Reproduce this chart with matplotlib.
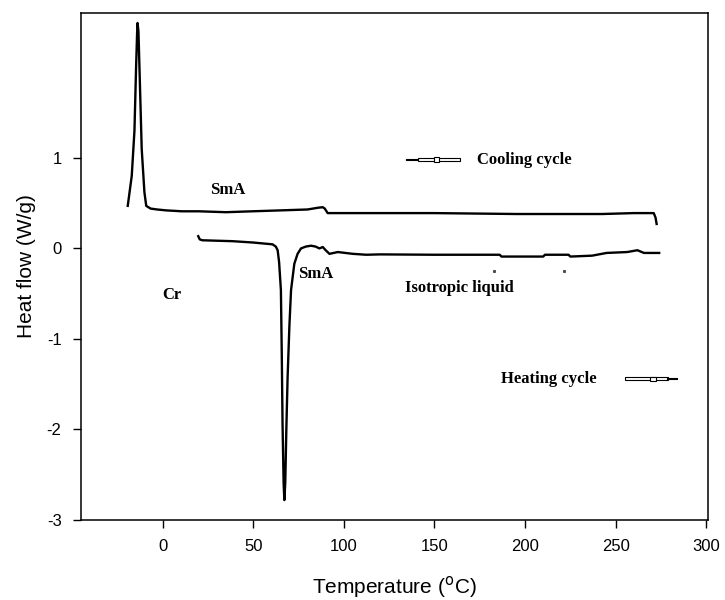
import matplotlib.pyplot as plt
from matplotlib.patches import Rectangle

plt.rcParams["axes.unicode_minus"] = False

# cooling run (x in C, heat flow in W/g)
cool_t = [-19.2, -17.0, -15.5, -14.6, -14.0, -13.8, -13.3, -12.6, -11.5, -10.0, -9.0,
          -6.6, -3.0, 2.0, 10.7, 20.0, 35.0, 49.6, 65.0, 80.0, 86.0, 88.4, 89.5,
          91.1, 105.0, 123.5, 150.0, 195.5, 220.0, 242.5, 260.0, 271.0, 272.0, 272.6]
cool_hf = [0.47, 0.80, 1.30, 2.00, 2.40, 2.49, 2.40, 1.90, 1.10, 0.62, 0.47,
           0.44, 0.43, 0.42, 0.41, 0.41, 0.40, 0.41, 0.42, 0.43, 0.45, 0.455, 0.44,
           0.39, 0.39, 0.39, 0.39, 0.38, 0.38, 0.38, 0.39, 0.39, 0.34, 0.27]

# heating run
heat_t = [19.7, 20.5, 21.9, 30.0, 38.5, 50.0, 58.0, 60.7, 62.5, 63.5, 64.3, 65.3,
          65.8, 66.2, 66.8, 67.2, 67.7, 68.3, 69.0, 70.0, 70.9, 72.7, 74.5, 76.4,
          79.0, 81.9, 84.5, 86.5, 88.4, 90.0, 92.1, 96.7, 105.0, 112.4, 120.0,
          150.0, 186.0, 187.0, 210.0, 211.0, 224.0, 225.0, 237.0, 245.0, 256.4,
          262.0, 265.6, 274.0]
heat_hf = [0.135, 0.10, 0.09, 0.085, 0.08, 0.065, 0.05, 0.045, 0.02, -0.02, -0.15, -0.46,
           -1.20, -1.93, -2.59, -2.78, -2.59, -2.00, -1.42, -0.85, -0.46, -0.17, -0.06, 0.0,
           0.02, 0.03, 0.02, 0.0, 0.015, -0.02, -0.06, -0.04, -0.06, -0.07, -0.066,
           -0.07, -0.07, -0.09, -0.09, -0.07, -0.07, -0.09, -0.08, -0.05, -0.04,
           -0.02, -0.05, -0.05]

# stray specks below the baseline
speck_t = [183.0, 221.3]
speck_hf = [-0.25, -0.25]

phase_labels = ["SmA", "SmA", "Cr", "Isotropic liquid"]
phase_t = [35.9, 84.5, 4.9, 163.7]
phase_hf = [0.64, -0.28, -0.51, -0.44]

xticks = [0, 50, 100, 150, 200, 250, 300]
yticks = [-3, -2, -1, 0, 1]

fig = plt.figure(figsize=(7.25, 6.0), dpi=100)
ax = fig.add_axes([0.1117, 0.1333, 0.865, 0.845])

ax.plot(cool_t, cool_hf, color="black", lw=1.7)
ax.plot(heat_t, heat_hf, color="black", lw=1.7)
ax.plot(speck_t, speck_hf, ls="none", marker="s", ms=1.2, color="0.3")

serif = dict(family="Liberation Serif", fontweight="bold", fontsize=12)
for lab, t, hf in zip(phase_labels, phase_t, phase_hf):
    ax.text(t, hf, lab, ha="center", va="center", **serif)

# hollow arrow-like markers next to the cycle labels
ax.plot([134.6, 141.0], [0.98, 0.98], color="black", lw=1.5)
ax.add_patch(Rectangle((141.0, 0.965), 23.0, 0.03, fc="white", ec="black", lw=0.8))
ax.add_patch(Rectangle((149.5, 0.955), 3.0, 0.05, fc="white", ec="black", lw=0.8))
ax.text(173.5, 0.98, "Cooling cycle", ha="left", va="center", **serif)

ax.add_patch(Rectangle((254.9, -1.455), 24.0, 0.03, fc="white", ec="black", lw=0.8))
ax.add_patch(Rectangle((269.0, -1.465), 3.0, 0.05, fc="white", ec="black", lw=0.8))
ax.plot([278.9, 284.0], [-1.44, -1.44], color="black", lw=1.5)
ax.text(187.0, -1.44, "Heating cycle", ha="left", va="center", **serif)

ax.set_xlim(-45, 301)
ax.set_ylim(-3, 2.6)
ax.set_xticks(xticks)
ax.set_yticks(yticks)
ax.tick_params(direction="out", length=6, width=1, labelsize=12, pad=8)
for lab in ax.get_xticklabels() + ax.get_yticklabels():
    lab.set_family("Liberation Sans")
for sp in ax.spines.values():
    sp.set_linewidth(1.1)

ax.set_xlabel("Temperature ($^{\\mathrm{o}}$C)", family="Liberation Sans", fontsize=15, labelpad=14)
ax.set_ylabel("Heat flow (W/g)", family="Liberation Sans", fontsize=15, labelpad=8)

fig.savefig("out.png", dpi=100)
